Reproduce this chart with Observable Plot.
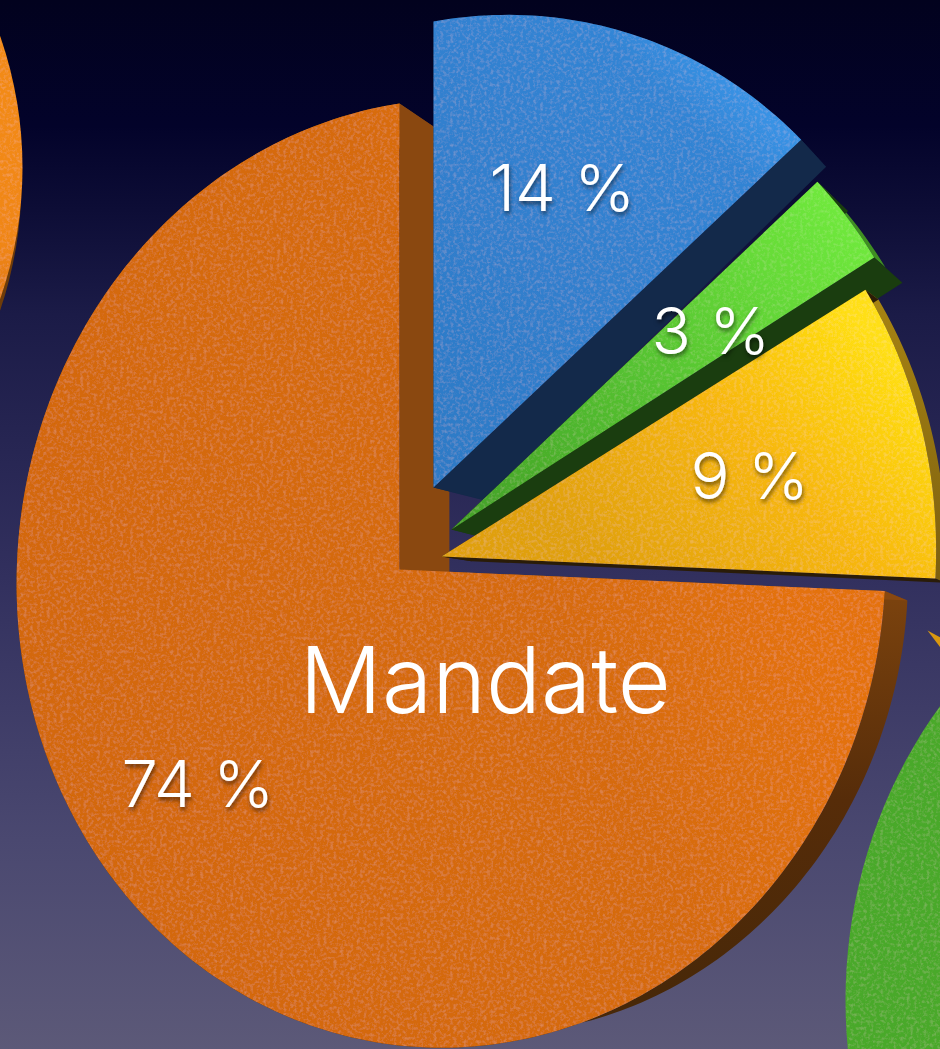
<!DOCTYPE html>
<html><head><meta charset="utf-8">
<script src="https://cdn.jsdelivr.net/npm/d3@7"></script>
<script src="https://cdn.jsdelivr.net/npm/@observablehq/plot@0.6"></script>
<style>html,body{margin:0;padding:0;background:#02021e;overflow:hidden}svg{display:block;max-width:none}</style>
</head><body><div id="chart"></div>
<script>
// --- data ---
const categories = ["blue", "green", "yellow", "orange"];
const shares = [14, 3, 9, 74];
const shareLabels = ["14 %", "3 %", "9 %", "74 %"];
const labelX = [489, 651, 690, 121];
const labelY = [210, 353, 498, 806];
const pieTitle = "Mandate";

// --- placement of each exploded slice and its extruded wall ---
const apexX = {blue: 433, green: 451, yellow: 441, orange: 399};
const apexY = {blue: 487, green: 529, yellow: 556, orange: 569};
const stretchX = {blue: 1.02, green: 1.015, yellow: 1.018, orange: 1};
const stretchY = {blue: 1.0, green: 1.02, yellow: 1.018, orange: 1};
const tilt = {blue: -13, green: -5, yellow: 0, orange: 0};
const wall = {
  blue:   {fx: .0736, vx: 1140, fy: .04,  vy: 812, rim: 1},
  green:  {fx: .042,  vx: 1548, fy: .05,  vy: 765, rim: .4},
  yellow: {fx: .04,   vx: 1191, fy: .019, vy: 800, rim: 1},
  orange: {fx: .056,  vx: 1290, fy: .05,  vy: 780, rim: 1}
};
const wallFill = {blue: "#13294a", green: "#1a3d0f", yellow: "#2a1c08", orange: "#8a4810"};
const rimFill = {blue: "#13294a", green: "#3f8f22", yellow: "url(#rimYellow)", orange: "url(#rimOrange)"};

// neighbouring pies, cropped by the picture
const neighbours = [
  {name: "leftWall", cx: -537, cy: 181, rx: 558, ry: 470, a0: 0, a1: 180, fill: "#6e3c0a"},
  {name: "left", cx: -538, cy: 167, rx: 560, ry: 470, a0: 0, a1: 180, fill: "url(#faceLeft)"},
  {name: "tip", cx: 927, cy: 630, rx: 300, ry: 300, a0: 118, a1: 143, fill: "#d9980f"},
  {name: "right", cx: 1295, cy: 1000, rx: 450, ry: 480, a0: 180, a1: 360, fill: "url(#faceRight)"}
];

// tilted-disc projection (unit pie -> picture)
const P = 0 - .1185, Q = .0106, B11 = 381, B12 = 4.2, B21 = -78, B22 = -464.9;
function project(a, name) {
  const X = Math.sin(a), Y = Math.cos(a), w = 1 + P * X + Q * Y;
  return [
    apexX[name] + stretchX[name] * ((399 + B11 * X + B12 * Y) / w - 399),
    apexY[name] + stretchY[name] * ((569 + B21 * X + B22 * Y) / w - 569) + tilt[name] * X / w
  ];
}
function extrude([x, y], name, k = 1) {
  const e = wall[name];
  return [x + k * e.fx * (e.vx - x), y + k * e.fy * (e.vy - y)];
}
const arcs = d3.pie().sort(null)(shares);
const slices = categories.map((name, i) => {
  const {startAngle: a0, endAngle: a1} = arcs[i];
  const n = Math.max(2, Math.ceil((a1 - a0) * 180 / Math.PI));
  const arc = d3.range(n + 1).map(k => project(a0 + (a1 - a0) * k / n, name));
  return {name, arc, apex: [apexX[name], apexY[name]]};
});
const rows = pts => pts.map(([x, y]) => ({x, y}));
const poly = (pts, fill) => Plot.line(rows(pts), {x: "x", y: "y", curve: "linear-closed", fill, stroke: "none"});

const marks = [];
marks.push(Plot.rect([0], {x1: () => 0, x2: () => 940, y1: () => 0, y2: () => 1049, fill: "url(#bg)"}));
for (const nb of neighbours) {
  const n = 90, pts = d3.range(n + 1).map(k => {
    const a = (nb.a0 + (nb.a1 - nb.a0) * k / n) * Math.PI / 180;
    return [nb.cx + nb.rx * Math.sin(a), nb.cy - nb.ry * Math.cos(a)];
  });
  marks.push(poly([[nb.cx, nb.cy], ...pts], nb.fill));
}
for (const s of [slices[3], slices[0], slices[1], slices[2]]) {
  const first = s.arc[0], last = s.arc[s.arc.length - 1];
  const ap = extrude(s.apex, s.name);
  const rim = wall[s.name].rim;
  marks.push(poly([...s.arc, ...s.arc.map(p => extrude(p, s.name, rim)).reverse()], rimFill[s.name]));
  marks.push(poly([s.apex, first, extrude(first, s.name), ap], wallFill[s.name]));
  marks.push(poly([s.apex, last, extrude(last, s.name), ap], wallFill[s.name]));
  marks.push(poly([s.apex, ...s.arc], `url(#face-${s.name})`));
}
const pctRows = shareLabels.map((text, i) => ({text, x: labelX[i], y: labelY[i]}));
const font = {fontFamily: "Inter, Roboto, 'Liberation Sans', sans-serif", fontWeight: 300, fill: "white", textAnchor: "start", lineAnchor: "bottom"};
marks.push(Plot.text(pctRows, {x: "x", y: "y", text: "text", fontSize: 65, ...font}));
marks.push(Plot.text([pieTitle], {x: () => 299, y: () => 712, text: d => d, fontSize: 91.5, ...font}));

const svg = Plot.plot({
  width: 940, height: 1049, margin: 0,
  x: {domain: [0, 940], range: [0, 940], axis: null},
  y: {domain: [0, 1049], range: [0, 1049], axis: null},
  style: {background: "transparent"},
  marks
});

const lin = (id, x1, y1, x2, y2, stops) =>
  `<linearGradient id="${id}" gradientUnits="userSpaceOnUse" x1="${x1}" y1="${y1}" x2="${x2}" y2="${y2}">` +
  stops.map(([o, c]) => `<stop offset="${o}" stop-color="${c}"/>`).join("") + `</linearGradient>`;
const defs = document.createElementNS("http://www.w3.org/2000/svg", "defs");
defs.innerHTML =
  lin("bg", 0, 0, 0, 1049, [[0, "#02021e"], [.12, "#03032a"], [.2, "#0d0d36"], [.3, "#1b1b47"], [.55, "#32305e"], [.8, "#4a4870"], [1, "#5c5978"]]) +
  lin("face-blue", 780, 130, 440, 470, [[0, "#3892e4"], [.12, "#3284d4"], [1, "#2e7ac6"]]) +
  lin("face-green", 830, 200, 460, 520, [[0, "#6fe83c"], [.5, "#56c431"], [1, "#43a128"]]) +
  lin("face-yellow", 860, 320, 600, 570, [[0, "#ffdf12"], [.45, "#f7b70e"], [1, "#e0a00c"]]) +
  lin("face-orange", 800, 600, 100, 900, [[0, "#e4720f"], [.3, "#d66b0e"], [1, "#d3670e"]]) +
  lin("faceLeft", 0, 100, 0, 340, [[0, "#f28a14"], [.6, "#f08614"], [1, "#d8720f"]]) +
  lin("faceRight", 0, 700, 0, 1049, [[0, "#4aa92a"], [1, "#4aa92a"]]) +
  lin("rimYellow", 0, 290, 0, 580, [[0, "#a88412"], [1, "#7d6010"]]) +
  lin("rimOrange", 0, 600, 0, 1000, [[0, "#7a420e"], [.5, "#562c09"], [1, "#482808"]]) +
  `<filter id="grain" filterUnits="userSpaceOnUse" x="0" y="0" width="940" height="1049">
     <feTurbulence type="fractalNoise" baseFrequency="0.3" numOctaves="3" seed="4" result="n"/>
     <feGaussianBlur in="n" stdDeviation="0.6" result="b"/>
     <feColorMatrix in="b" type="matrix" values="0 0 0 0 1  0 0 0 0 .85  0 0 0 0 .6  0 0 0 .3 -.135" result="w"/>
     <feComposite in="w" in2="SourceAlpha" operator="in" result="g"/>
     <feMerge><feMergeNode in="SourceGraphic"/><feMergeNode in="g"/></feMerge>
   </filter>
   <filter id="shadow" filterUnits="userSpaceOnUse" x="0" y="0" width="940" height="1049">
     <feDropShadow dx="1" dy="3" stdDeviation="2.2" flood-color="#000" flood-opacity=".55"/>
   </filter>`;
svg.insertBefore(defs, svg.firstChild);
svg.querySelectorAll('g[fill^="url(#face"]').forEach(g => g.setAttribute("filter", "url(#grain)"));
svg.querySelectorAll('g[aria-label="text"][font-size="65"]').forEach(g => g.setAttribute("filter", "url(#shadow)"));
document.getElementById("chart").append(svg);
</script></body></html>
